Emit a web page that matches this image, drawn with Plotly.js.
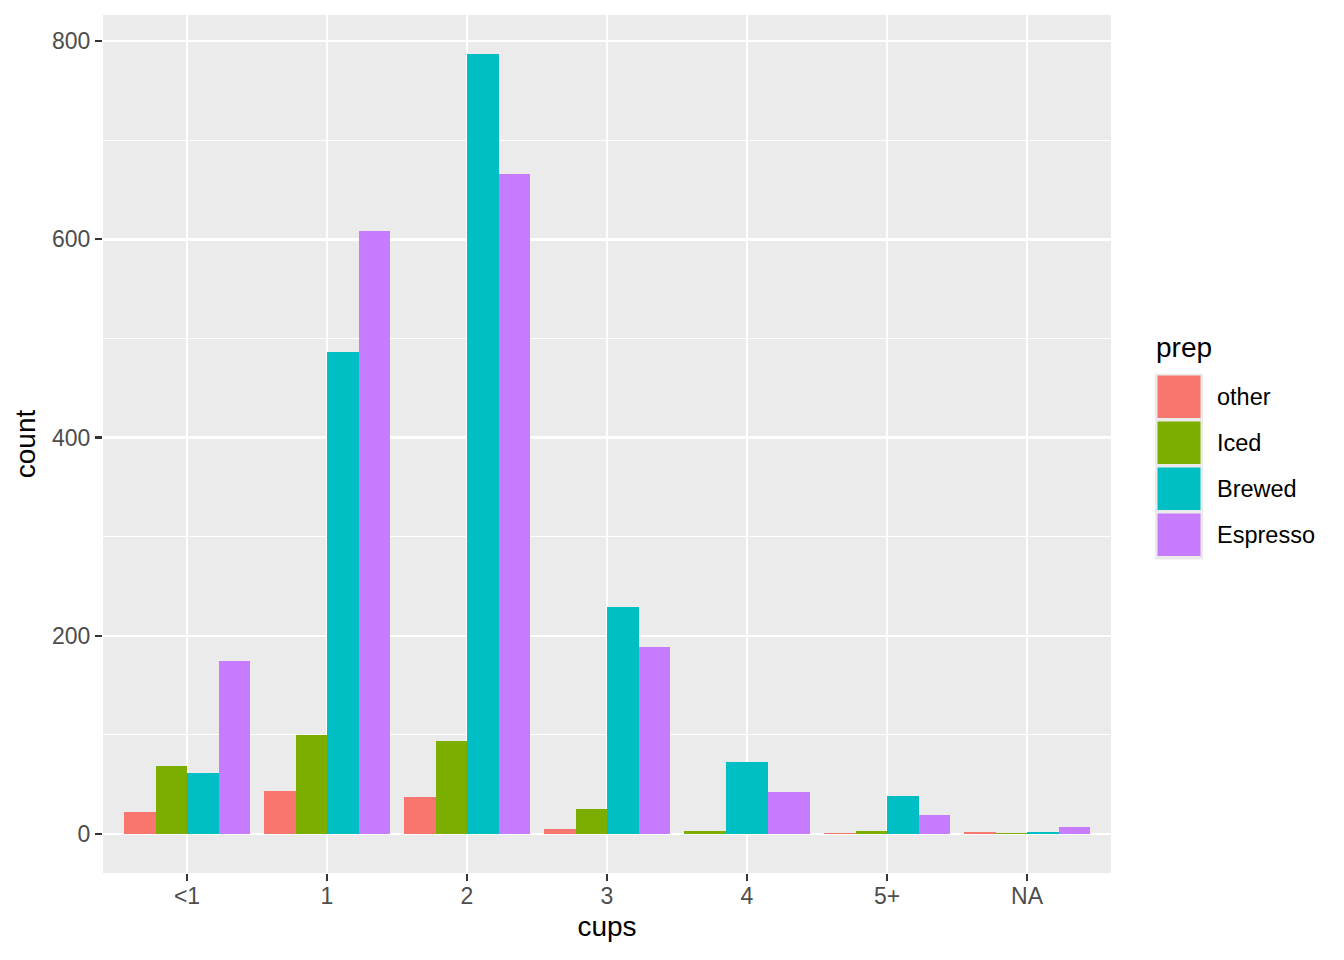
<!DOCTYPE html>
<html>
<head>
<meta charset="utf-8">
<script src="https://cdn.plot.ly/plotly-3.0.1.min.js"></script>
<style>html,body{margin:0;padding:0;background:#fff}#chart{width:1344px;height:960px}</style>
</head>
<body>
<div id="chart"></div>
<script>
// ---- data ----
const categories = ['<1', '1', '2', '3', '4', '5+', 'NA'];
const seriesNames = ['other', 'Iced', 'Brewed', 'Espresso'];
const other    = [22, 43, 37, 5, null, 1, 2];
const iced     = [69, 100, 94, 25, 3, 3, 1];
const brewed   = [62, 486, 787, 229, 73, 38, 2];
const espresso = [175, 608, 666, 189, 42, 19, 7];
const yTickVals = [0, 200, 400, 600, 800];
const colors = ['#F8766D', '#7CAE00', '#00BFC4', '#C77CFF'];

const series = [other, iced, brewed, espresso];
const FONT = 'Liberation Sans, Arial, Helvetica, sans-serif';

// ggplot-like dodge: bars share 0.9 of the category slot among the groups present
const xs = categories.map((c, i) => i + 1);
const traces = series.map((vals, s) => {
  const widths = [], offsets = [];
  categories.forEach((c, i) => {
    const present = series.map(v => v[i] != null);
    const n = present.filter(Boolean).length;
    const w = 0.9 / n;
    const rank = present.slice(0, s).filter(Boolean).length;
    widths.push(w);
    offsets.push(-0.45 + rank * w);
  });
  return {
    type: 'bar', name: seriesNames[s], x: xs, y: vals,
    width: widths, offset: offsets,
    marker: {color: colors[s], line: {width: 0}},
    showlegend: false, hoverinfo: 'x+y+name'
  };
});

// axis range with ggplot's 5% expansion
const maxVal = Math.max(...series.flat().filter(v => v != null));
const pad = maxVal * 0.05;

// plot panel in pixels (for the hand-built legend)
const L = 103, R = 1111, T = 15, B = 873;
const px = x => (x - L) / (R - L);
const py = y => (B - y) / (B - T);

const shapes = [];
const annotations = [];
annotations.push({xref: 'paper', yref: 'paper', x: px(1154), y: py(347), xanchor: 'left', yanchor: 'middle',
  text: 'prep', showarrow: false, font: {family: FONT, size: 28, color: '#000'}});
shapes.push({type: 'rect', xref: 'paper', yref: 'paper', x0: px(1155), x1: px(1203), y0: py(373.5), y1: py(559.5),
  fillcolor: '#EBEBEB', line: {width: 0}, layer: 'above'});
seriesNames.forEach((nm, s) => {
  const top = 375.5 + s * 46;
  shapes.push({type: 'rect', xref: 'paper', yref: 'paper', x0: px(1157.5), x1: px(1200.5),
    y0: py(top), y1: py(top + 42.5), fillcolor: colors[s], line: {width: 0}, layer: 'above'});
  annotations.push({xref: 'paper', yref: 'paper', x: px(1215), y: py(top + 21.5), xanchor: 'left', yanchor: 'middle',
    text: nm, showarrow: false, font: {family: FONT, size: 23.5, color: '#000'}});
});

const layout = {
  width: 1344, height: 960,
  margin: {l: L, r: 1344 - R, t: T, b: 960 - B, pad: 0},
  paper_bgcolor: '#FFFFFF', plot_bgcolor: '#EBEBEB',
  barmode: 'overlay', bargap: 0,
  font: {family: FONT, color: '#000'},
  xaxis: {
    range: [0.4, categories.length + 0.6],
    tickvals: xs, ticktext: categories,
    showgrid: true, gridcolor: '#FFFFFF', gridwidth: 2.4,
    zeroline: false, showline: false,
    ticks: 'outside', ticklen: 7, tickwidth: 2.2, tickcolor: '#333333',
    tickfont: {family: FONT, size: 23, color: '#4D4D4D'},
    ticklabelstandoff: -5,
    title: {text: 'cups', font: {family: FONT, size: 28, color: '#000'}, standoff: 8}
  },
  yaxis: {
    range: [-pad, maxVal + pad],
    tickvals: yTickVals, ticktext: yTickVals.map(String),
    showgrid: true, gridcolor: '#FFFFFF', gridwidth: 2.4,
    minor: {dtick: 100, tick0: 0, showgrid: true, gridcolor: '#FFFFFF', gridwidth: 1.2, ticks: ''},
    zeroline: false, showline: false,
    ticks: 'outside', ticklen: 7, tickwidth: 2.2, tickcolor: '#333333',
    tickfont: {family: FONT, size: 23, color: '#4D4D4D'},
    title: {text: 'count', font: {family: FONT, size: 28, color: '#000'}, standoff: 8}
  },
  shapes: shapes,
  annotations: annotations,
  showlegend: false
};

Plotly.newPlot('chart', traces, layout, {displayModeBar: false, staticPlot: true});
</script>
</body>
</html>
